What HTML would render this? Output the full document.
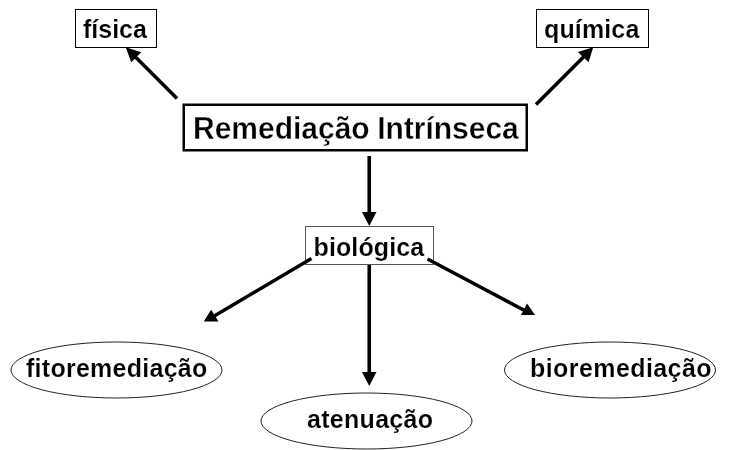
<!DOCTYPE html>
<html><head><meta charset="utf-8">
<style>
html,body{margin:0;padding:0;background:#fff;width:732px;height:450px;overflow:hidden}
svg{display:block;will-change:transform}
text{font-family:"Liberation Sans",sans-serif;font-weight:bold;fill:#000;stroke:#fff;stroke-width:0.15px}
.big{stroke-width:0.35px}
</style></head>
<body>
<svg width="732" height="450" viewBox="0 0 732 450">
<!-- boxes -->
<rect x="75.5" y="9.5" width="81" height="38" fill="none" stroke="#000" stroke-width="1"/>
<rect x="536.5" y="9.5" width="112" height="38" fill="none" stroke="#000" stroke-width="1"/>
<rect x="183.75" y="104.75" width="343" height="45.5" fill="none" stroke="#000" stroke-width="2.5"/>
<rect x="305.5" y="226.5" width="128" height="38" fill="none" stroke="#555" stroke-width="1"/>
<!-- ellipses -->
<ellipse cx="116.5" cy="370" rx="105.5" ry="28" fill="none" stroke="#222" stroke-width="1"/>
<ellipse cx="366.5" cy="421" rx="105.5" ry="28" fill="none" stroke="#222" stroke-width="1"/>
<ellipse cx="610" cy="370" rx="105.5" ry="28" fill="none" stroke="#222" stroke-width="1"/>
<!-- arrows -->
<g stroke="#000" stroke-width="3.6" fill="none">
<line x1="177" y1="98.5" x2="132" y2="53.5"/>
<line x1="536" y1="104.5" x2="587" y2="53.5"/>
<line x1="369.25" y1="156" x2="369.25" y2="213"/>
<line x1="311.5" y1="258.5" x2="213" y2="316.8" stroke-width="3.4"/>
<line x1="427.5" y1="259" x2="527" y2="311.8" stroke-width="3.4"/>
<line x1="369.25" y1="265" x2="369.25" y2="373"/>
</g>
<g fill="#000">
<polygon points="125.8,47.2 141.3,52.2 131.2,62.2"/>
<polygon points="593.2,47.2 577.8,52 588.6,62.2"/>
<polygon points="362,212 376.5,212 369.25,226"/>
<polygon points="362,372 376.5,372 369.25,386"/>
<polygon points="203.8,321.6 211.1,309.8 218.5,321.6"/>
<polygon points="521,315 527,303.5 535,315"/>
</g>
<!-- text -->
<text x="83" y="37.5" font-size="25">física</text>
<text x="544" y="37.5" font-size="25" textLength="95.3" lengthAdjust="spacing">química</text>
<text class="big" transform="translate(193,138.8) scale(1,1.07)" x="0" y="0" font-size="30" word-spacing="-0.8">Remediação Intrínseca</text>
<text x="313.5" y="255.5" font-size="25" textLength="110.7" lengthAdjust="spacing">biológica</text>
<text x="26" y="377" font-size="25" textLength="181.3" lengthAdjust="spacing">fitoremediação</text>
<text x="307" y="427.5" font-size="25" textLength="126" lengthAdjust="spacing">atenuação</text>
<text x="530" y="377" font-size="25" textLength="181.5" lengthAdjust="spacing">bioremediação</text>
</svg>
</body></html>
